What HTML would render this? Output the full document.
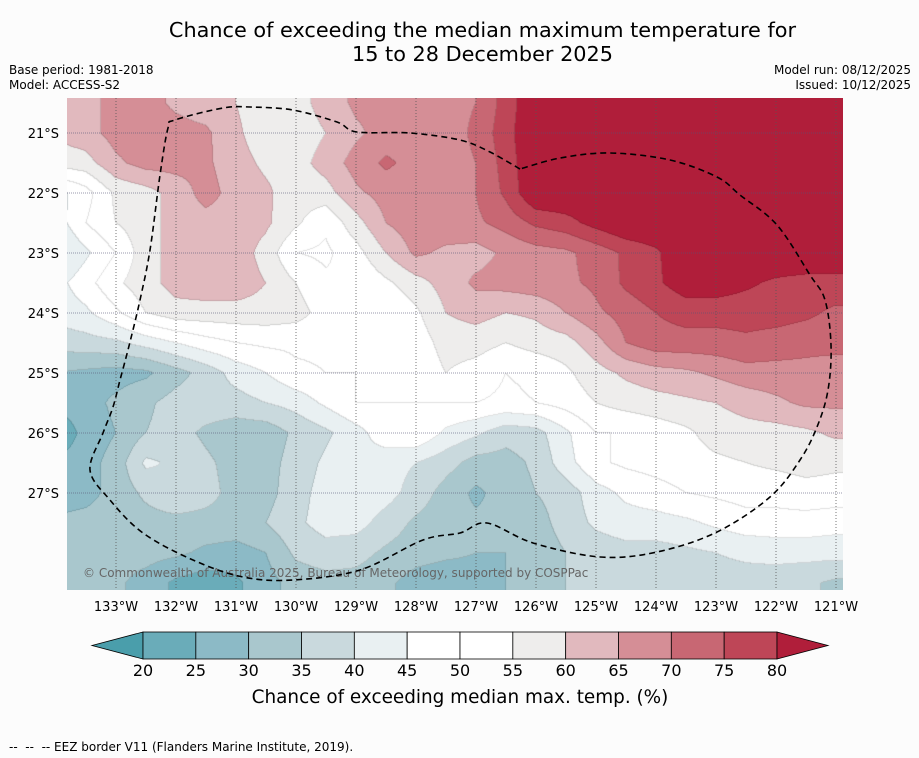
<!DOCTYPE html>
<html><head><meta charset="utf-8">
<style>
body{margin:0;background:#fcfcfc;}
#wrap{position:relative;width:919px;height:758px;overflow:hidden;font-family:"Liberation Sans","DejaVu Sans",sans-serif;color:#000;}
.t{position:absolute;white-space:nowrap;}
</style></head>
<body>
<div id="wrap">
<div class="t" style="left:0;width:965px;top:18px;text-align:center;font-size:20.8px;line-height:24px;font-family:'DejaVu Sans',sans-serif;">Chance of exceeding the median maximum temperature for<br>15 to 28 December 2025</div>
<div class="t" style="left:9px;top:63px;font-size:12px;line-height:15px;font-family:'DejaVu Sans',sans-serif;">Base period: 1981-2018<br>Model: ACCESS-S2</div>
<div class="t" style="right:8px;top:63px;font-size:12px;line-height:15px;text-align:right;font-family:'DejaVu Sans',sans-serif;">Model run: 08/12/2025<br>Issued: 10/12/2025</div>
<svg id="svg" width="919" height="758" style="position:absolute;left:0;top:0;">
<foreignObject x="67" y="98" width="776" height="492"><canvas xmlns="http://www.w3.org/1999/xhtml" id="cv" width="776" height="492"></canvas></foreignObject>
<g id="grid"></g>
<g id="axes"></g>
<text x="83" y="577" font-size="12" fill="#666" font-family="DejaVu Sans,sans-serif">© Commonwealth of Australia 2025, Bureau of Meteorology, supported by COSPPac</text>
<path id="eez" fill="none" stroke="#000" stroke-width="1.6" stroke-dasharray="6,4"/>
<g id="cbar"></g>
<text x="460" y="703" font-size="18.4" text-anchor="middle" font-family="DejaVu Sans,sans-serif">Chance of exceeding median max. temp. (%)</text>
<text x="9" y="751" font-size="12" font-family="DejaVu Sans,sans-serif">--&#160;&#160;--&#160;&#160;-- EEZ border V11 (Flanders Marine Institute, 2019).</text>
</svg>
</div>
<script>
const lonTicks=[-133,-132,-131,-130,-129,-128,-127,-126,-125,-124,-123,-122,-121];
const latTicks=[-21,-22,-23,-24,-25,-26,-27];
const levels=[20,25,30,35,40,45,50,55,60,65,70,75,80];
const binColors=["#4a9eab","#6aacb9","#8cbac6","#a9c7cd","#c9d9dd","#e9f0f2","#ffffff","#ffffff","#eeedec","#e1b9be","#d58e96","#c86773","#be4657","#b01e3a"];
const gridLons=[-134,-133.5,-133,-132.5,-132,-131.5,-131,-130.5,-130,-129.5,-129,-128.5,-128,-127.5,-127,-126.5,-126,-125.5,-125,-124.5,-124,-123.5,-123,-122.5,-122,-121.5,-121,-120.5];
const gridLats=[-20.5,-21,-21.5,-22,-22.5,-23,-23.5,-24,-24.5,-25,-25.5,-26,-26.5,-27,-27.5,-28,-28.5,-29];
const probRows=[
[62,63,67,67,64,62,60,57,58,62,66,67,68,68,70,77,85,85,85,85,85,85,85,85,85,85,85,85],
[61,63,67,67,67,66,61,57,57,60,64,67,68,67.5,71,78,85,85,85,85,85,85,85,85,85,85,85,85],
[57,58,64,67,67,66,62,59,58,62,67,71,68,67.5,70,77,85,85,85,85,85,85,85,85,85,85,85,85],
[43,48,56,58,62,67,63,61,57,58,64,67,68,68,70,76,85,85,85,85,85,85,85,85,85,85,85,85],
[42,50,55,58,62,63,63,61,56,51,58,65,68,68,69,72,76,78,82,85,85,85,85,85,85,85,85,85],
[38,44,50,58,62,63,63,58,50,49,53,60,66,64,63,66,68,69,72,76,79,85,85,85,85,85,85,85],
[43,48,54,58,62,63,63,60,55,51,50,54,58,62,66,67,68,69,71,76,79,83,83,81,79,78,78,78],
[42,44,49,55,58,58,58,58,57,53,50,50,54,60,62,60,61,65,69,72,75,77,77,77,77,76,74,74],
[37,38,39,42,45,48,50,51,51,51,51,51,52,57,57,55,57,58,63,70,73,73,73,74,73,72,72,72],
[30,29,28,29,33,37,42,45,49,50,50,50,51,55,53,50,51,54,58,61,63,64,66,68,68,68,67,67],
[27,28,31,34,37,38,38,40,42,46,50,50,50,50,50,49,50,52,55,57,58,59,60,62,64,66,66,66],
[20,27,30,35,37,34,32,32,36,39,43,48,50,44,41,37,38,44,50,50,52,54,57,58,58,59,61,61],
[26,28,32,41,39,36,33,33,37,41,44,42,40,37,33,33,36,43,49,51,52,53,54,55,56,57,56,56],
[27,28,32,36,40,37,33,33,38,42,43,42,38,33,29,32,35,37,43,46,48,50,51,52,52,53,53,53],
[31,32,33,33,33,33,33,35,39,42,42,38,34,32,31,31,33,37,41,43,43,44,46,48,48,48,47,47],
[32,32,32,32,31,29,28,30,36,38,37,34,32,31,30,30,32,35,37,38,38,39,40,41,42,42,42,42],
[32,31,31,28,24,22,24,28,32,33,33,31,28,27,28,30,32,35,37,37,38,38,38,38,37,36,34,34],
[32,31,31,28,24,22,24,28,32,33,33,31,28,27,28,30,32,35,37,37,38,38,38,38,37,36,34,34]
];
const eezLons=[-126.267,-126.767,-127.267,-128.1,-128.983,-129.317,-130.05,-130.767,-131.217,-132.017,-132.133,-132.267,-132.433,-132.6,-132.767,-132.933,-133.05,-133.217,-133.433,-133.1,-132.55,-131.717,-130.883,-130.05,-128.933,-127.883,-127.267,-126.817,-126.05,-124.933,-123.983,-122.983,-122.1,-121.6,-121.317,-121.133,-121.083,-121.183,-121.433,-121.983,-122.6,-122.983,-123.767,-124.767,-125.6,-126.267];
const eezLats=[-21.6,-21.317,-21.117,-21.0,-20.983,-20.817,-20.617,-20.567,-20.583,-20.783,-20.917,-21.7,-22.95,-23.783,-24.483,-25.117,-25.567,-26.0,-26.617,-27.117,-27.667,-28.117,-28.4,-28.45,-28.283,-27.783,-27.667,-27.5,-27.833,-28.067,-27.983,-27.65,-27.067,-26.45,-25.9,-25.283,-24.533,-23.783,-23.367,-22.533,-22.033,-21.733,-21.45,-21.333,-21.417,-21.6];

const X0=67,Y0=98,W=776,H=492;
function xs(lon){return 116+(lon+133)*60;}
function ys(lat){return 133+(-21-lat)*60;}
const NS="http://www.w3.org/2000/svg";
function mk(tag,attrs,parent){const e=document.createElementNS(NS,tag);for(const k in attrs)e.setAttribute(k,attrs[k]);parent.appendChild(e);return e;}

function val(lon,lat){
  let fi=(lon-gridLons[0])/0.5, fj=(gridLats[0]-lat)/0.5;
  fi=Math.max(0,Math.min(gridLons.length-1.001,fi));fj=Math.max(0,Math.min(gridLats.length-1.001,fj));
  const i=Math.floor(fi),j=Math.floor(fj),a=fi-i,b=fj-j;
  const r0=probRows[j],r1=probRows[j+1];
  return (r0[i]*(1-a)+r0[i+1]*a)*(1-b)+(r1[i]*(1-a)+r1[i+1]*a)*b;
}
function bin(v){let k=0;while(k<levels.length&&v>=levels[k])k++;return k;}
function hex(c){return [parseInt(c.substr(1,2),16),parseInt(c.substr(3,2),16),parseInt(c.substr(5,2),16)];}
const rgb=binColors.map(hex);
const cv=document.getElementById('cv'),ctx=cv.getContext('2d');
const img=ctx.createImageData(W,H);
const bins=new Int8Array(W*H);
for(let y=0;y<H;y++)for(let x=0;x<W;x++){
  const lon=-133+(X0+x+0.5-116)/60, lat=-21-(Y0+y+0.5-133)/60;
  bins[y*W+x]=bin(val(lon,lat));
}
for(let y=0;y<H;y++)for(let x=0;x<W;x++){
  const k=bins[y*W+x];let c=rgb[k];let d=1;
  if((x<W-1&&bins[y*W+x+1]!==k)||(y<H-1&&bins[(y+1)*W+x]!==k))d=0.88;
  const p=(y*W+x)*4;img.data[p]=c[0]*d;img.data[p+1]=c[1]*d;img.data[p+2]=c[2]*d;img.data[p+3]=255;
}
ctx.putImageData(img,0,0);

const g=document.getElementById('grid'),ax=document.getElementById('axes');
lonTicks.forEach(l=>{
  const x=xs(l);
  const ln=mk('line',{x1:x,x2:x,y1:Y0,y2:Y0+H,stroke:'#555','stroke-width':1,'stroke-dasharray':'1,2','stroke-opacity':0.8},g);
  
  const t=mk('text',{x:x,y:611,'font-size':13,'text-anchor':'middle','font-family':'DejaVu Sans,sans-serif'},ax);
  t.textContent=Math.abs(l)+'°W';
  
});
latTicks.forEach(l=>{
  const y=ys(l);
  const ln=mk('line',{x1:X0,x2:X0+W,y1:y,y2:y,stroke:'#557',"stroke-width":1,'stroke-dasharray':'1,1','stroke-opacity':0.6},g);
  
  const t=mk('text',{x:59,y:y+5,'font-size':13,'text-anchor':'end','font-family':'DejaVu Sans,sans-serif'},ax);
  t.textContent=Math.abs(l)+'°S';
  
});
(function(){
  const P=eezLons.map((l,i)=>[xs(l),ys(eezLats[i])]);
  let d='M'+P[0][0].toFixed(1)+','+P[0][1].toFixed(1);
  for(let i=0;i<P.length-1;i++){
    const p0=P[Math.max(0,i-1)],p1=P[i],p2=P[i+1],p3=P[Math.min(P.length-1,i+2)];
    const c1=[p1[0]+(p2[0]-p0[0])/6,p1[1]+(p2[1]-p0[1])/6],c2=[p2[0]-(p3[0]-p1[0])/6,p2[1]-(p3[1]-p1[1])/6];
    d+=` C${c1[0].toFixed(1)},${c1[1].toFixed(1)} ${c2[0].toFixed(1)},${c2[1].toFixed(1)} ${p2[0].toFixed(1)},${p2[1].toFixed(1)}`;
  }
  document.getElementById('eez').setAttribute('d',d);
})();

const cb=document.getElementById('cbar');
const cbX0=143,cbX1=777,cbY=632,cbH=27;
function cx(v){return cbX0+(v-levels[0])/(levels[levels.length-1]-levels[0])*(cbX1-cbX0);}
const lt=mk('polygon',{points:`${cbX0},${cbY} ${cbX0},${cbY+cbH} 92,${cbY+cbH/2}`,fill:binColors[0],stroke:'#000','stroke-width':0.8},cb);

for(let i=0;i<levels.length-1;i++){
  const r=mk('rect',{x:cx(levels[i]),y:cbY,width:cx(levels[i+1])-cx(levels[i]),height:cbH,fill:binColors[i+1],stroke:'#000','stroke-width':0.8},cb);
  
}
const rt=mk('polygon',{points:`${cbX1},${cbY} ${cbX1},${cbY+cbH} 828,${cbY+cbH/2}`,fill:binColors[binColors.length-1],stroke:'#000','stroke-width':0.8},cb);

levels.forEach(v=>{
  const t=mk('text',{x:cx(v),y:676,'font-size':16,'text-anchor':'middle','font-family':'DejaVu Sans,sans-serif'},cb);
  t.textContent=v;
  
});
</script>
</body></html>
